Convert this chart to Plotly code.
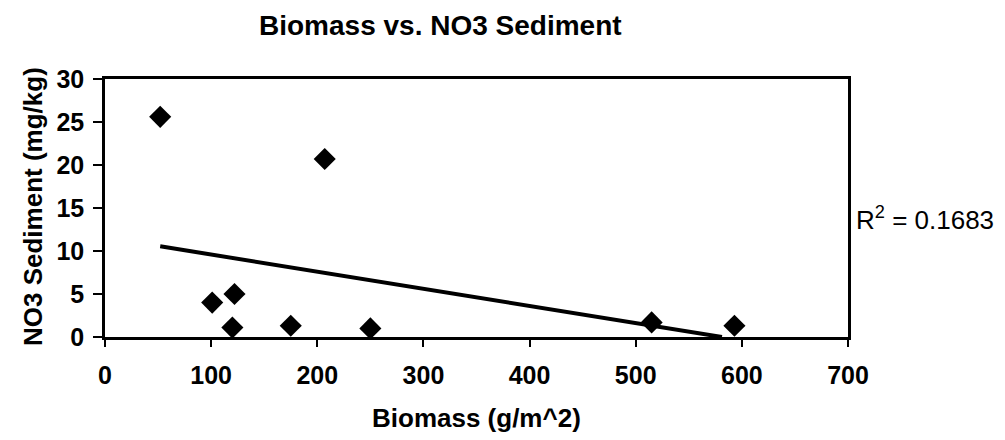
import numpy as np
import plotly.graph_objects as go

# Biomass (g/m^2) and sediment nitrate (mg/kg) per site
biomass = [52, 207, 101, 122, 120, 175, 250, 515, 593]
no3_sediment = [25.6, 20.7, 4.0, 5.0, 1.1, 1.3, 1.0, 1.7, 1.3]
x_ticks = [0, 100, 200, 300, 400, 500, 600, 700]
y_ticks = [0, 5, 10, 15, 20, 25, 30]
r2_text = "R<sup>2</sup> = 0.1683"

# Least-squares trend line, drawn from the smallest biomass until it meets the x axis
slope, intercept = np.polyfit(biomass, no3_sediment, 1)
x_start = min(biomass)
x_end = min(max(biomass), -intercept / slope) if slope < 0 else max(biomass)
trend_x = [x_start, x_end]
trend_y = [slope * v + intercept for v in trend_x]

font = "Liberation Sans, Arial, sans-serif"

# plot area in pixels: x 105..848, y 79..337
PL, PR, PT, PB = 105, 848, 79, 337
W, H = PR - PL, PB - PT

fig = go.Figure()
fig.add_trace(go.Scatter(
    x=trend_x, y=trend_y, mode="lines",
    line=dict(color="black", width=4), hoverinfo="skip", showlegend=False,
))
fig.add_trace(go.Scatter(
    x=biomass, y=no3_sediment, mode="markers",
    marker=dict(symbol="diamond", size=17, color="black"),
    showlegend=False,
))

fig.update_layout(
    width=1005, height=440,
    margin=dict(l=PL, r=1005 - PR, t=PT, b=440 - PB),
    paper_bgcolor="white", plot_bgcolor="white",
    font=dict(family=font, color="black"),
    annotations=[
        dict(text="<b>Biomass vs. NO3 Sediment</b>", xref="paper", yref="paper",
             x=(440 - PL) / W, y=1 + (PT - 25) / H, showarrow=False,
             font=dict(size=28, family=font), xanchor="center", yanchor="middle"),
        dict(text="<b>Biomass (g/m^2)</b>", xref="paper", yref="paper",
             x=(477 - PL) / W, y=-(418 - PB) / H, showarrow=False,
             font=dict(size=26, family=font), xanchor="center", yanchor="middle"),
        dict(text="<b>NO3 Sediment (mg/kg)</b>", xref="paper", yref="paper",
             x=-(PL - 33) / W, y=(PB - 207) / H, showarrow=False, textangle=-90,
             font=dict(size=26, family=font), xanchor="center", yanchor="middle"),
        dict(text=r2_text, xref="paper", yref="paper",
             x=1 + (854 - PR) / W, y=(PB - 218) / H, showarrow=False,
             font=dict(size=26, family=font), xanchor="left", yanchor="middle"),
    ],
)

fig.update_xaxes(
    range=[0, 700], tickvals=x_ticks, ticktext=[f"<b>{v}</b>" for v in x_ticks],
    showgrid=False, zeroline=False,
    showline=True, linecolor="black", linewidth=2.5, mirror=True,
    ticks="outside", ticklen=7, tickwidth=1.5, tickcolor="black",
    tickfont=dict(size=25, family=font), ticklabelstandoff=7,
)
fig.update_yaxes(
    range=[0, 30], tickvals=y_ticks, ticktext=[f"<b>{v}</b>" for v in y_ticks],
    showgrid=False, zeroline=False,
    showline=True, linecolor="black", linewidth=2.5, mirror=True,
    ticks="outside", ticklen=9, tickwidth=1.5, tickcolor="black",
    tickfont=dict(size=25, family=font), ticklabelstandoff=4,
)

fig.write_html("out.html")
